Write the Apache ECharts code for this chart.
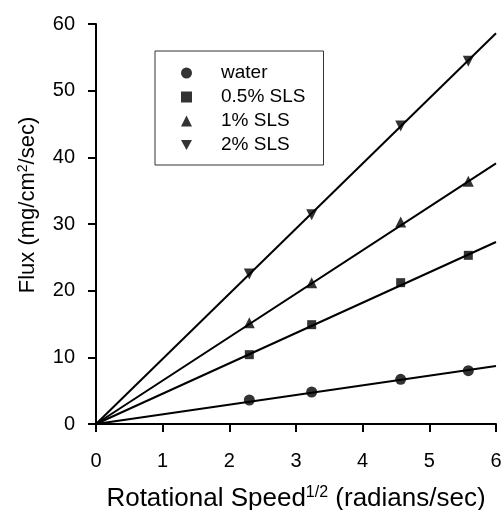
<!DOCTYPE html>
<html><head><meta charset="utf-8">
<script src="https://cdn.jsdelivr.net/npm/echarts@6/dist/echarts.min.js"></script>
<style>html,body{margin:0;padding:0;background:#fff}#c{width:503px;height:510px}</style>
</head><body><div id="c"></div>
<script>
var speedX = [2.30, 3.235, 4.57, 5.585];
var water = [3.6, 4.8, 6.7, 8.0];
var sls05 = [10.4, 14.9, 21.2, 25.3];
var sls1 = [15.2, 21.2, 30.3, 36.4];
var sls2 = [22.5, 31.4, 44.7, 54.4];
var fitX = [0, 6];
var fitWater = [0, 8.7];
var fitSls05 = [0, 27.3];
var fitSls1 = [0, 39.1];
var fitSls2 = [0, 58.6];
var xTicks = [0, 1, 2, 3, 4, 5, 6];
var yTicks = [0, 10, 20, 30, 40, 50, 60];
var names = ['water', '0.5% SLS', '1% SLS', '2% SLS'];

function pairs(xs, ys) { return xs.map(function (x, i) { return [x, ys[i]]; }); }
var font = 'Liberation Sans, Arial, sans-serif';
var downTri = 'path://M0,0 L10,0 L5,9 Z';
var symbols = ['circle', 'rect', 'triangle', downTri];
var sizes = [11, 9, 11, 11];
var sets = [water, sls05, sls1, sls2];
var fits = [fitWater, fitSls05, fitSls1, fitSls2];

var series = [];
fits.forEach(function (f, i) {
  series.push({
    name: 'fit ' + names[i], type: 'line', data: pairs(fitX, f), showSymbol: false,
    lineStyle: { color: '#000', width: 2 }, silent: true, z: 2
  });
});
sets.forEach(function (s, i) {
  series.push({
    name: names[i], type: 'scatter', data: pairs(speedX, s), symbol: symbols[i],
    symbolSize: sizes[i], itemStyle: { color: '#000' }, z: 3
  });
});

var chart = echarts.init(document.getElementById('c'));
chart.setOption({
  animation: false,
  backgroundColor: '#fff',
  grid: { left: 96, right: 7, top: 24, bottom: 86, containLabel: false, outerBoundsMode: 'none' },
  legend: {
    data: names.map(function (n, i) { return { name: n, icon: symbols[i] }; }),
    orient: 'vertical', left: 155, top: 51,
    padding: [11, 18, 9, 26],
    borderColor: '#333', borderWidth: 1,
    itemWidth: 11, itemHeight: 11, itemGap: 2,
    textStyle: { fontFamily: font, fontSize: 19, color: '#000', lineHeight: 22, padding: [0, 0, 0, 24] },
    itemStyle: { color: '#000' }
  },
  xAxis: {
    type: 'value', min: 0, max: 6, interval: 1,
    name: '{a|Rotational Speed}{s|1/2}{a| (radians/sec)}',
    nameLocation: 'middle', nameGap: 61,
    nameTextStyle: { rich: {
      a: { fontFamily: font, fontSize: 26, color: '#000' },
      s: { fontFamily: font, fontSize: 16, color: '#000', verticalAlign: 'top', padding: [0, 0, 12, 0] }
    } },
    splitLine: { show: false },
    axisLine: { onZero: false, lineStyle: { color: '#000', width: 2 } },
    axisTick: { length: 8, lineStyle: { color: '#000', width: 2 } },
    axisLabel: { fontFamily: font, fontSize: 20, color: '#000', margin: 27 }
  },
  yAxis: {
    type: 'value', min: 0, max: 60, interval: 10,
    name: '{a|Flux (mg/cm}{s|2}{a|/sec)}',
    nameLocation: 'middle', nameGap: 56,
    nameTextStyle: { padding: [0, 0, 0, 38], rich: {
      a: { fontFamily: font, fontSize: 22, color: '#000' },
      s: { fontFamily: font, fontSize: 14, color: '#000', verticalAlign: 'top', padding: [0, 0, 10, 0] }
    } },
    splitLine: { show: false },
    axisLine: { onZero: false, lineStyle: { color: '#000', width: 2 } },
    axisTick: { length: 8, lineStyle: { color: '#000', width: 2 } },
    axisLabel: { fontFamily: font, fontSize: 20, color: '#000', margin: 21 }
  },
  series: series
});
</script></body></html>
